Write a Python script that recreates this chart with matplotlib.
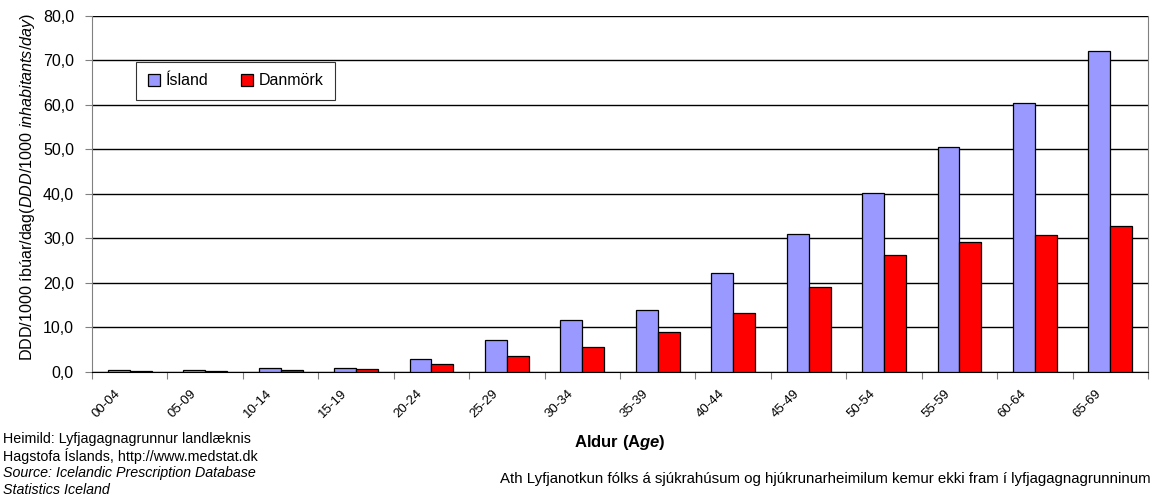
import numpy as np
import matplotlib.pyplot as plt
import matplotlib.transforms as mtransforms
from matplotlib.ticker import FuncFormatter, FixedLocator

plt.rcParams['font.family'] = ['Liberation Sans', 'DejaVu Sans']
plt.rcParams['mathtext.fontset'] = 'custom'
plt.rcParams['mathtext.rm'] = 'Liberation Sans'
plt.rcParams['mathtext.it'] = 'Liberation Sans:italic'
plt.rcParams['mathtext.bf'] = 'Liberation Sans:bold'
plt.rcParams['mathtext.bfit'] = 'Liberation Sans:bold:italic'

age_groups = ['00-04', '05-09', '10-14', '15-19', '20-24', '25-29', '30-34',
              '35-39', '40-44', '45-49', '50-54', '55-59', '60-64', '65-69']
island = [0.5, 0.5, 0.8, 1.0, 2.9, 7.3, 11.7, 13.9, 22.3, 31.0, 40.2, 50.5, 60.5, 72.2]
danmork = [0.2, 0.2, 0.4, 0.7, 1.7, 3.6, 5.6, 9.0, 13.3, 19.2, 26.4, 29.3, 30.7, 32.9]

fig = plt.figure(figsize=(11.55, 4.95), dpi=100)
ax = fig.add_axes([0.0797, 0.2485, 0.9143, 0.7192])

x = np.arange(len(age_groups))
w = 0.29
ax.bar(x - w / 2, island, w, color='#9999FF', edgecolor='black', linewidth=0.9,
       label='Ísland', zorder=3)
ax.bar(x + w / 2, danmork, w, color='#FF0000', edgecolor='black', linewidth=0.9,
       label='Danmörk', zorder=3)

ax.set_xlim(-0.5, len(age_groups) - 0.5)
ax.set_ylim(0, 80)
ax.set_yticks(np.arange(0, 81, 10))
ax.yaxis.set_major_formatter(FuncFormatter(lambda v, p: f'{v:.1f}'.replace('.', ',')))
ax.yaxis.grid(True, color='black', linewidth=1.0, zorder=0)
ax.tick_params(axis='y', labelsize=11.5, length=5, color='#808080', pad=8)

# ticks at category boundaries, labels at centres
ax.xaxis.set_major_locator(FixedLocator(np.arange(-0.5, len(age_groups), 1.0)))
ax.xaxis.set_major_formatter(FuncFormatter(lambda v, p: ''))
ax.tick_params(axis='x', which='major', length=5, color='#808080')
ax.set_xticks(x, minor=True)
ax.set_xticklabels(age_groups, minor=True, rotation=45, ha='right',
                   va='center', rotation_mode='anchor', fontsize=9.5)
ax.tick_params(axis='x', which='minor', length=0, pad=14)
shift = mtransforms.ScaledTranslation(-11 / 100, 0, fig.dpi_scale_trans)
for lbl in ax.get_xticklabels(minor=True):
    lbl.set_transform(lbl.get_transform() + shift)

ax.spines['top'].set_visible(False)
ax.spines['left'].set_color('#808080')
ax.spines['right'].set_color('#808080')
ax.spines['bottom'].set_color('black')

ax.set_ylabel(r'DDD/1000 íbúar/dag($\mathit{DDD/1000\ inhabitants/day}$)',
              fontsize=11.6)
ax.yaxis.set_label_coords(-0.052, 0.52)

leg = ax.legend(loc='upper left', bbox_to_anchor=(0.0417, 0.871), ncol=2,
                fontsize=11.5, frameon=True, fancybox=False, edgecolor='black',
                handlelength=0.75, handleheight=0.75, columnspacing=2.0,
                borderpad=0.72, handletextpad=0.4, borderaxespad=0)
leg.get_frame().set_linewidth(0.8)

fig.text(0.537, 0.107, r'$\mathbf{Aldur\ (A}\mathbfit{ge}\mathbf{)}$',
         ha='center', va='center', fontsize=12)

src = ['Heimild: Lyfjagagnagrunnur landlæknis',
       'Hagstofa Íslands, http://www.medstat.dk',
       'Source: Icelandic Prescription Database',
       'Statistics Iceland']
for i, line in enumerate(src):
    fig.text(0.003, 0.113 - i * 0.0345, line, fontsize=10.3,
             style='italic' if i >= 2 else 'normal', va='center')

fig.text(0.996, 0.032,
         'Ath Lyfjanotkun fólks á sjúkrahúsum og hjúkrunarheimilum kemur ekki fram í lyfjagagnagrunninum',
         ha='right', va='center', fontsize=10.8)

fig.savefig('out.png', dpi=100)
